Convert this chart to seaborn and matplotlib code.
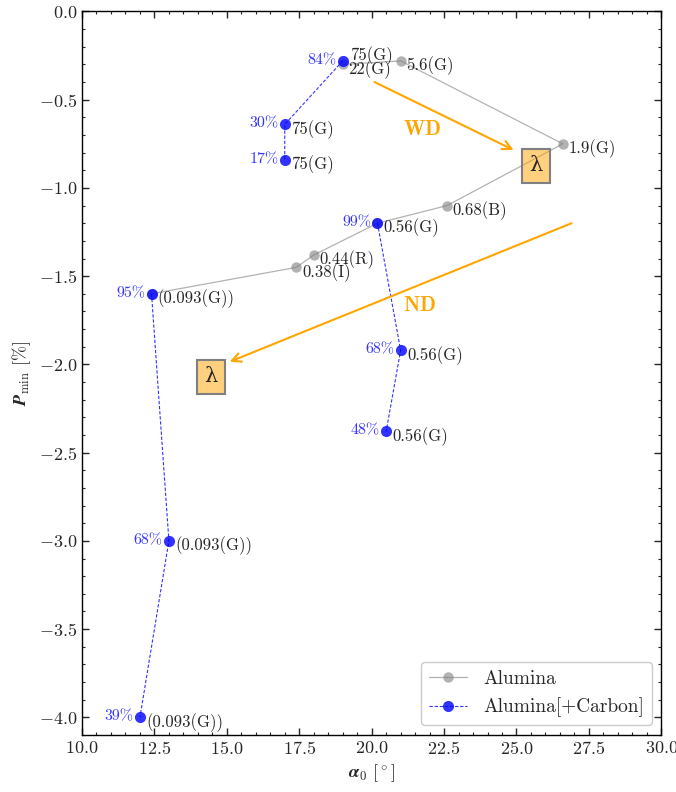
import matplotlib
matplotlib.use("Agg")
import matplotlib.pyplot as plt
from matplotlib.lines import Line2D
from matplotlib.ticker import MultipleLocator
import numpy as np
import pandas as pd
import seaborn as sns

# Alumina series (ordered by grain size)
alumina_alpha0 = [12.4, 17.4, 18.0, 20.2, 22.6, 26.6, 21.0, 19.0]
alumina_pmin = [-1.60, -1.45, -1.38, -1.20, -1.10, -0.75, -0.28, -0.30]
alumina_labels = ["", "0.38(I)", "0.44(R)", "", "0.68(B)", "1.9(G)", "5.6(G)", "22(G)"]

# Alumina[+Carbon] series, three carbon-fraction sequences
carbon_group = [0, 0, 0, 1, 1, 1, 2, 2, 2]
carbon_alpha0 = [19.0, 17.0, 17.0, 20.2, 21.0, 20.5, 12.4, 13.0, 12.0]
carbon_pmin = [-0.28, -0.64, -0.84, -1.20, -1.92, -2.38, -1.60, -3.00, -4.00]
carbon_fraction = ["84%", "30%", "17%", "99%", "68%", "48%", "95%", "68%", "39%"]
carbon_labels = ["75(G)", "75(G)", "75(G)", "0.56(G)", "0.56(G)", "0.56(G)",
                 "(0.093(G))", "(0.093(G))", "(0.093(G))"]

sns.set_style("ticks")
plt.rcParams.update({
    "font.family": "serif",
    "font.serif": ["cmr10"],
    "mathtext.fontset": "cm",
    "axes.formatter.use_mathtext": True,
    "axes.unicode_minus": True,
    "xtick.direction": "in",
    "ytick.direction": "in",
    "xtick.top": True,
    "ytick.right": True,
    "xtick.minor.visible": True,
    "ytick.minor.visible": True,
    "axes.edgecolor": "black",
    "axes.linewidth": 1.0,
})

alumina = pd.DataFrame({"alpha0": alumina_alpha0, "pmin": alumina_pmin, "label": alumina_labels})
carbon = pd.DataFrame({"alpha0": carbon_alpha0, "pmin": carbon_pmin, "group": carbon_group,
                       "frac": carbon_fraction, "label": carbon_labels})

fig = plt.figure(figsize=(6.76, 7.92), dpi=100)
ax = fig.add_axes([0.1213, 0.072, 0.857, 0.9135])

gray_kw = dict(color="gray", alpha=0.6, lw=0.9, marker="o", markersize=7.5, markeredgewidth=0)
blue_kw = dict(color="blue", alpha=0.8, lw=0.8, linestyle=(0, (3, 1.6)), marker="o",
               markersize=8, markeredgewidth=0)

sns.lineplot(data=alumina, x="alpha0", y="pmin", sort=False, estimator=None, ax=ax, **gray_kw)
sns.lineplot(data=carbon, x="alpha0", y="pmin", units="group", sort=False, estimator=None,
             ax=ax, **blue_kw)

# point annotations
label_offset = {("75(G)", 0): (5, 4)}
for _, r in alumina.iterrows():
    if r["label"]:
        ax.annotate(r["label"], (r["alpha0"], r["pmin"]), xytext=(4, -3.5),
                    textcoords="offset points", ha="left", va="center", fontsize=12)
for i, r in carbon.iterrows():
    off = label_offset.get((r["label"], i), (4.5, -3.5))
    ax.annotate(r["label"], (r["alpha0"], r["pmin"]), xytext=off,
                textcoords="offset points", ha="left", va="center", fontsize=12)
    ax.annotate(r["frac"], (r["alpha0"], r["pmin"]), xytext=(-4.5, 0.5),
                textcoords="offset points", ha="right", va="center", fontsize=11.5,
                color="blue", alpha=0.8)

# wavelength trend arrows
arrow_kw = dict(arrowstyle="->", color="orange", lw=1.5, mutation_scale=16, shrinkA=0, shrinkB=0)
ax.annotate("", xy=(24.9, -0.785), xytext=(20.1, -0.40), arrowprops=arrow_kw)
ax.annotate("", xy=(15.1, -1.985), xytext=(26.9, -1.20), arrowprops=arrow_kw)
ax.text(21.75, -0.67, r"$\mathbf{WD}$", color="orange", fontsize=15, ha="center", va="center")
ax.text(21.65, -1.665, r"$\mathbf{ND}$", color="orange", fontsize=15, ha="center", va="center")

box_kw = dict(boxstyle="square,pad=0.35", fc=(1.0, 0.647, 0.0, 0.5), ec="gray", lw=1.5)
for bx, by in [(25.67, -0.875), (14.45, -2.07)]:
    ax.text(bx, by, "λ", fontsize=15, ha="center", va="center", bbox=box_kw,
            family=["DejaVu Serif"])

ax.set_xlim(10, 30)
ax.set_ylim(-4.1, 0)
ax.xaxis.set_major_locator(MultipleLocator(2.5))
ax.xaxis.set_minor_locator(MultipleLocator(0.5))
ax.yaxis.set_major_locator(MultipleLocator(0.5))
ax.yaxis.set_minor_locator(MultipleLocator(0.1))
ax.tick_params(which="major", length=5, width=1, labelsize=13)
ax.tick_params(which="minor", length=2.5, width=0.8)
ax.set_xlabel(r"$\boldsymbol{\alpha}_0$ $[^\circ]$", fontsize=13)
ax.set_ylabel(r"$\boldsymbol{P}_{\min}$ $[\%]$", fontsize=13)

handles = [Line2D([], [], **gray_kw), Line2D([], [], **blue_kw)]
ax.legend(handles, ["Alumina", "Alumina[+Carbon]"], loc="lower right", fontsize=14,
          frameon=True, fancybox=True, edgecolor="0.8", framealpha=1.0,
          borderpad=0.4, handlelength=2.0)

fig.savefig("out.png", dpi=100)
